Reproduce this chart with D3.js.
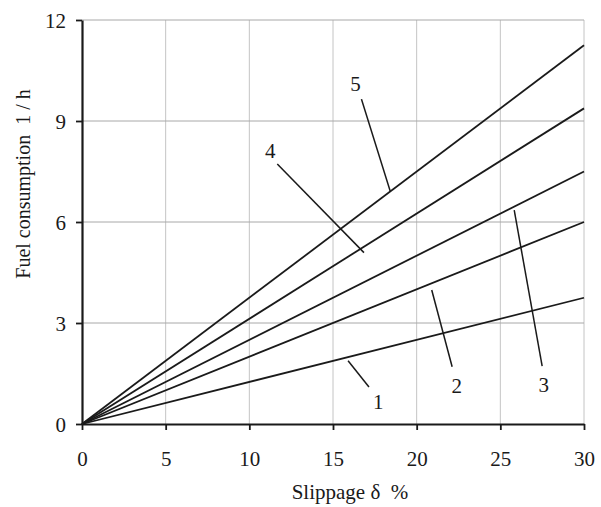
<!DOCTYPE html>
<html>
<head>
<meta charset="utf-8">
<script src="https://cdn.jsdelivr.net/npm/d3@7"></script>
<style>
  body { margin: 0; background: #fff; }
  text { font-family: "Liberation Serif", "Times New Roman", serif; fill: #1a1a1a; }
</style>
</head>
<body>
<div id="chart"></div>
<script>
// slippage (%) and fuel consumption (l/h) for the five lines
const slip = [0, 30];
const line1 = [0, 3.75];
const line2 = [0, 6.0];
const line3 = [0, 7.5];
const line4 = [0, 9.375];
const line5 = [0, 11.25];
const seriesNames = ["1", "2", "3", "4", "5"];
const xTicks = [0, 5, 10, 15, 20, 25, 30];
const yTicks = [0, 3, 6, 9, 12];

const series = [line1, line2, line3, line4, line5].map((v, i) => ({
    name: seriesNames[i],
    points: slip.map((s, j) => ({ x: s, y: v[j] }))
}));

const width = 601, height = 507;
const margin = { top: 20, right: 17, bottom: 83, left: 82 };
const w = width - margin.left - margin.right,
      h = height - margin.top - margin.bottom;

const svg = d3.select("#chart").append("svg")
    .attr("width", width)
    .attr("height", height);

const chart = svg.append("g")
    .attr("transform", `translate(${margin.left},${margin.top})`);

const x = d3.scaleLinear().domain([0, 30]).range([0, w]);
const y = d3.scaleLinear().domain([0, 12]).range([h, 0]);

// grid
chart.append("g")
    .selectAll("line.vg")
    .data(xTicks.slice(1))
    .enter().append("line")
    .attr("x1", d => x(d)).attr("x2", d => x(d))
    .attr("y1", 0).attr("y2", h)
    .attr("stroke", "#c4c4c4").attr("stroke-width", 1);

chart.append("g")
    .selectAll("line.hg")
    .data(yTicks.slice(1))
    .enter().append("line")
    .attr("x1", 0).attr("x2", w)
    .attr("y1", d => y(d)).attr("y2", d => y(d))
    .attr("stroke", "#a8a8a8").attr("stroke-width", 1);

// axes
const xAxis = chart.append("g")
    .attr("transform", `translate(0,${h})`)
    .call(d3.axisBottom(x).tickValues(xTicks).tickSize(6).tickPadding(21).tickSizeOuter(0));
const yAxis = chart.append("g")
    .call(d3.axisLeft(y).tickValues(yTicks).tickSize(6).tickPadding(10).tickSizeOuter(0));

[xAxis, yAxis].forEach(a => {
    a.attr("font-family", null).attr("font-size", null);
    a.select(".domain").attr("stroke", "#1a1a1a").attr("stroke-width", 2.2);
    a.selectAll(".tick line").attr("stroke", "#1a1a1a").attr("stroke-width", 1.8);
    a.selectAll(".tick text")
        .style("font-family", "'Liberation Serif', serif")
        .style("font-size", "21px")
        .attr("fill", "#1a1a1a");
});
yAxis.selectAll(".tick text").attr("dy", "0.34em");

// lines
const lineGen = d3.line().x(d => x(d.x)).y(d => y(d.y));
chart.selectAll(".series")
    .data(series)
    .enter().append("path")
    .attr("class", "series")
    .attr("d", d => lineGen(d.points))
    .attr("fill", "none")
    .attr("stroke", "#1a1a1a")
    .attr("stroke-width", 1.8);

// label leaders, in data units: [label, textX, textY, fromX, fromY, toX, toY]
const notes = [
    ["1", 17.7, 0.65, 15.9, 1.88, 17.15, 1.1],
    ["2", 22.4, 1.14, 20.9, 3.98, 22.12, 1.7],
    ["3", 27.6, 1.16, 25.83, 6.35, 27.5, 1.72],
    ["4", 11.25, 8.12, 11.67, 7.72, 16.85, 5.09],
    ["5", 16.35, 10.1, 16.7, 9.65, 18.43, 6.9]
];

chart.selectAll(".leader")
    .data(notes)
    .enter().append("line")
    .attr("x1", d => x(d[3])).attr("y1", d => y(d[4]))
    .attr("x2", d => x(d[5])).attr("y2", d => y(d[6]))
    .attr("stroke", "#1a1a1a").attr("stroke-width", 1.5);

chart.selectAll(".note")
    .data(notes)
    .enter().append("text")
    .attr("x", d => x(d[1])).attr("y", d => y(d[2]))
    .attr("text-anchor", "middle")
    .attr("dy", "0.34em")
    .style("font-size", "21px")
    .text(d => d[0]);

// axis titles
svg.append("text")
    .attr("x", 350).attr("y", 499)
    .attr("text-anchor", "middle")
    .style("font-size", "21px")
    .style("white-space", "pre")
    .text("Slippage δ  %");

svg.append("text")
    .attr("transform", "translate(30,184) rotate(-90)")
    .attr("text-anchor", "middle")
    .style("font-size", "20px")
    .style("white-space", "pre")
    .text("Fuel consumption  1 / h");
</script>
</body>
</html>
